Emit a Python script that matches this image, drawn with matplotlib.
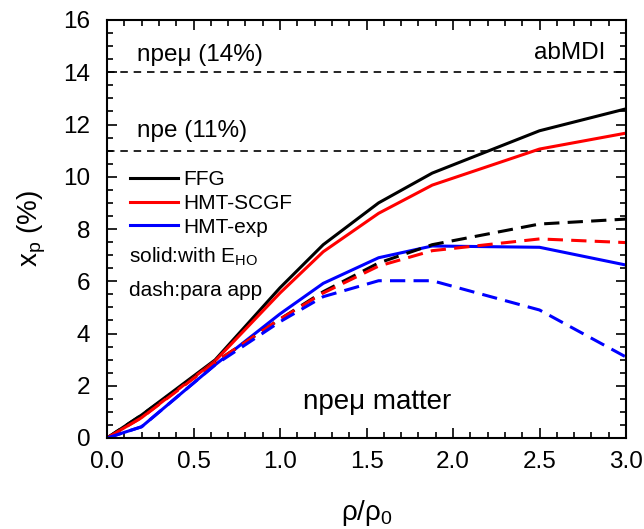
import numpy as np
import matplotlib
matplotlib.use("Agg")
from matplotlib import pyplot as plt

plt.rcParams["font.family"] = ["Liberation Sans", "DejaVu Sans"]
plt.rcParams["mathtext.fontset"] = "custom"
plt.rcParams["mathtext.rm"] = "Liberation Sans"
plt.rcParams["mathtext.it"] = "Liberation Sans:italic"

# density rho/rho0
rho = [0.0, 0.2, 0.625, 1.0, 1.25, 1.57, 1.88, 2.5, 3.0]

# proton fraction (%), solid: with E_HO
ffg_solid = [0.0, 0.88, 2.99, 5.75, 7.40, 9.00, 10.14, 11.76, 12.60]
scgf_solid = [0.0, 0.78, 2.95, 5.55, 7.13, 8.60, 9.68, 11.06, 11.67]
exp_solid = [0.0, 0.43, 2.80, 4.75, 5.92, 6.90, 7.35, 7.30, 6.62]

# dashed: para app
ffg_dash = [0.0, 0.88, 2.90, 4.55, 5.60, 6.70, 7.40, 8.19, 8.38]
scgf_dash = [0.0, 0.78, 2.90, 4.55, 5.55, 6.58, 7.17, 7.62, 7.48]
exp_dash = [0.0, 0.43, 2.80, 4.45, 5.41, 6.02, 6.02, 4.90, 3.10]

labels = ["FFG", "HMT-SCGF", "HMT-exp"]
colors = ["black", "red", "blue"]
thresholds = [14, 11]
threshold_labels = ["npeμ (14%)", "npe (11%)"]

fig = plt.figure(figsize=(6.44, 5.29), dpi=100)
ax = fig.add_axes([107 / 644, 1 - 438 / 529, 519 / 644, 418 / 529])

for y, lab, ty in zip(thresholds, threshold_labels, [14.66, 11.75]):
    ax.plot([0, 3], [y, y], color="black", lw=1.2, dashes=(4.5, 3.5))
    ax.text(0.175, ty, lab, fontsize=17.5, ha="left", va="center")

handles = []
for ys, c, lab in zip([ffg_solid, scgf_solid, exp_solid], colors, labels):
    (h,) = ax.plot(rho, ys, color=c, lw=2.2, label=lab)
    handles.append(h)
for ys, c in zip([ffg_dash, scgf_dash, exp_dash], colors):
    ax.plot(rho, ys, color=c, lw=2.2, dashes=(5, 2.7))

ax.legend(handles=handles, loc="upper left", bbox_to_anchor=(0.02, 0.67),
          frameon=False, fontsize=15, handlelength=2.3, handletextpad=0.25,
          labelspacing=0.22, borderaxespad=0.2)
ax.text(0.13, 6.93, "solid:with E$_{\\mathrm{HO}}$", fontsize=15, ha="left", va="center")
ax.text(0.13, 5.66, "dash:para app", fontsize=15, ha="left", va="center")
ax.text(2.88, 14.75, "abMDI", fontsize=17.5, ha="right", va="center")
ax.text(1.133, 1.38, "npeμ matter", fontsize=20, ha="left", va="center")

ax.set_xlim(0, 3)
ax.set_ylim(0, 16)
ax.set_xticks(np.arange(0, 3.01, 0.5))
ax.set_xticks(np.arange(0, 3.01, 0.1), minor=True)
ax.set_yticks(np.arange(0, 16.1, 2))
ax.set_yticks(np.arange(0, 16.1, 0.5), minor=True)
ax.xaxis.set_major_formatter(matplotlib.ticker.FormatStrFormatter("%.1f"))
ax.tick_params(which="both", direction="in", top=True, right=True, width=1.2,
               labelsize=17.5)
ax.tick_params(which="major", length=7)
ax.tick_params(axis="x", which="major", pad=9)
ax.tick_params(axis="y", which="major", pad=12)
ax.tick_params(which="minor", length=4)
for s in ax.spines.values():
    s.set_linewidth(1.5)

ax.set_xlabel("ρ/ρ$_0$", fontsize=20, labelpad=18)
ax.set_ylabel("x$_\\mathrm{p}$ (%)", fontsize=20, labelpad=11)

fig.savefig("out.png", dpi=100)
